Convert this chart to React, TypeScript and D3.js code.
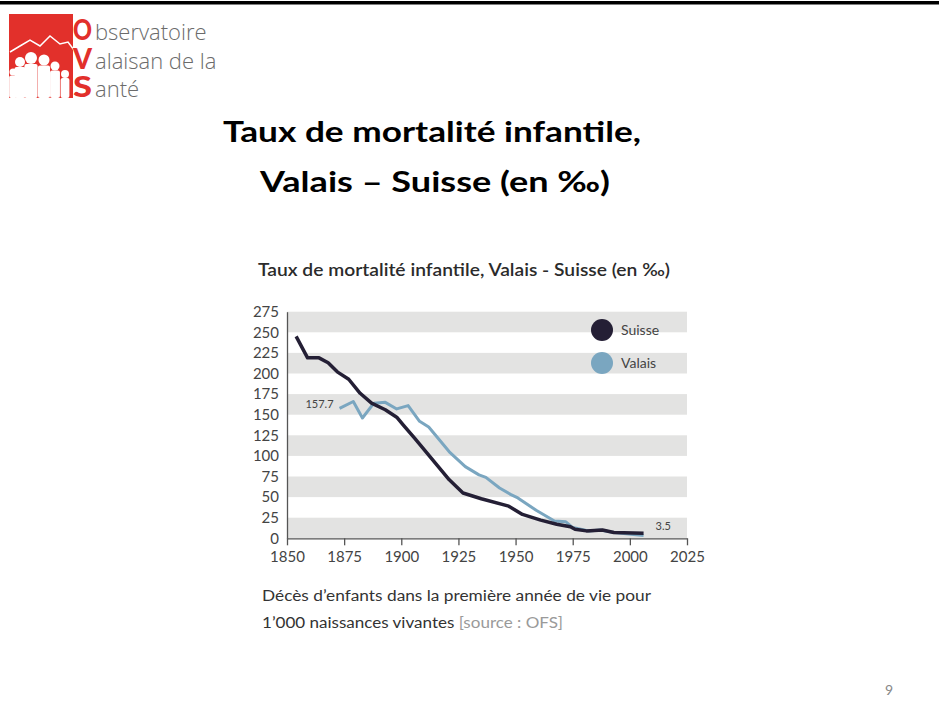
import { useEffect, useRef } from 'react';
import * as d3 from 'd3';

// Taux de mortalité infantile (pour 1000 naissances vivantes)
const suisseYears = [1854, 1859, 1864, 1868, 1872, 1877, 1882, 1887, 1893, 1898, 1901, 1906, 1912, 1921, 1927, 1935, 1947, 1953, 1961, 1968, 1974, 1976, 1981, 1988, 1993, 2006];
const suisseValues = [245, 219, 219, 213, 202, 193, 176, 164, 156, 147, 137, 121, 101, 71, 55, 48, 39, 29, 22, 17, 14, 11, 9, 10, 7, 6];

const valaisYears = [1873, 1879, 1883, 1888, 1893, 1898, 1903, 1908, 1912, 1921, 1928, 1934, 1937, 1943, 1948, 1951, 1959, 1967, 1972, 1975, 1982, 1987, 1993, 2006];
const valaisValues = [157.7, 166, 146, 164, 165, 157, 161, 142, 135, 105, 87, 77, 74, 61, 53, 49, 34, 21, 20, 13, 9, 10, 7, 3.5];

const seriesNames = ['Suisse', 'Valais'];
const seriesColors = ['#241f35', '#7aa6c0'];

const xTicks = [1850, 1875, 1900, 1925, 1950, 1975, 2000, 2025];
const yTicks = [0, 25, 50, 75, 100, 125, 150, 175, 200, 225, 250, 275];

const W = 939;
const H = 713;

export default function App() {
  const svgRef = useRef<SVGSVGElement>(null);

  useEffect(() => {
    const svg = d3.select(svgRef.current);
    svg.selectAll('*').remove();

    // slide frame
    svg.append('rect').attr('width', W).attr('height', H).attr('fill', '#fff');
    svg.append('rect').attr('x', 0).attr('y', 1).attr('width', W).attr('height', 3.5).attr('fill', '#000');

    // logo
    const logo = svg.append('g');
    logo.append('rect').attr('x', 9).attr('y', 14).attr('width', 64).attr('height', 84).attr('fill', '#e2302b');
    logo.append('polyline')
      .attr('points', '10,52 20,46 30,40 40,46 50,36 60,44 68,42 74,50')
      .attr('fill', 'none').attr('stroke', '#fff').attr('stroke-width', 1.5);
    const people = [
      [20, 62, 5, 34], [31, 58, 6, 38], [44, 60, 5.5, 36], [55, 66, 4.5, 30], [65, 74, 4, 22], [13, 72, 3.5, 24]
    ];
    people.forEach(([cx, cy, r]) => {
      logo.append('circle').attr('cx', cx).attr('cy', cy).attr('r', r).attr('fill', '#fff');
      logo.append('rect').attr('x', cx - r * 1.1).attr('y', cy + r).attr('width', r * 2.2).attr('height', 98 - cy - r).attr('rx', 2).attr('fill', '#fff');
    });
    ['O', 'V', 'S'].forEach((ch, i) => {
      logo.append('text').attr('x', 73).attr('y', 40 + i * 28.5)
        .attr('font-family', 'Lato, sans-serif').attr('font-weight', 900).attr('font-size', 28)
        .attr('textLength', 19).attr('lengthAdjust', 'spacingAndGlyphs')
        .attr('fill', '#e2302b').text(ch);
    });
    ['bservatoire', 'alaisan de la', 'anté'].forEach((t, i) => {
      logo.append('text').attr('x', 95).attr('y', 40 + i * 28.5)
        .attr('font-family', 'Open Sans, sans-serif').attr('font-weight', 300).attr('font-size', 22)
        .attr('fill', '#6b6b6b').text(t);
    });

    // slide title
    svg.append('text').attr('x', 223).attr('y', 142)
      .attr('font-family', 'Lato, sans-serif').attr('font-weight', 700).attr('font-size', 28)
      .attr('textLength', 418).attr('lengthAdjust', 'spacingAndGlyphs')
      .attr('fill', '#000').text('Taux de mortalité infantile,');
    svg.append('text').attr('x', 260).attr('y', 192)
      .attr('font-family', 'Lato, sans-serif').attr('font-weight', 700).attr('font-size', 28)
      .attr('textLength', 350).attr('lengthAdjust', 'spacingAndGlyphs')
      .attr('fill', '#000').text('Valais – Suisse (en ‰)');

    // chart
    const x = d3.scaleLinear().domain([1850, 2025]).range([287, 687]);
    const y = d3.scaleLinear().domain([0, 275]).range([538.3, 311.7]);

    svg.append('text').attr('x', 258).attr('y', 276)
      .attr('font-family', 'Lato, sans-serif').attr('font-weight', 600).attr('font-size', 16.5)
      .attr('textLength', 412).attr('lengthAdjust', 'spacingAndGlyphs')
      .attr('fill', '#2b2b2b').text('Taux de mortalité infantile, Valais - Suisse (en ‰)');

    const bands = yTicks.filter((d, i) => i % 2 === 0 && d < 275);
    svg.append('g').selectAll('rect').data(bands).enter().append('rect')
      .attr('x', x(1850)).attr('width', x(2025) - x(1850))
      .attr('y', (d) => y(d + 25)).attr('height', (d) => y(d) - y(d + 25))
      .attr('fill', '#e3e3e2');

    const xAxis = svg.append('g')
      .attr('transform', `translate(0, ${y(0)})`)
      .call(d3.axisBottom(x).tickValues(xTicks).tickFormat(d3.format('d')).tickSize(7).tickSizeOuter(0).tickPadding(6));
    xAxis.select('.domain').attr('stroke', '#555').attr('stroke-width', 1.3);
    xAxis.selectAll('.tick line').attr('stroke', '#555').attr('stroke-width', 1.3);
    xAxis.selectAll('.tick text').attr('font-family', 'Lato, sans-serif').attr('font-size', 15).attr('fill', '#444');

    const yAxis = svg.append('g')
      .attr('transform', `translate(${x(1850)}, 0)`)
      .call(d3.axisLeft(y).tickValues(yTicks).tickSize(0).tickSizeOuter(0).tickPadding(8));
    yAxis.select('.domain').attr('stroke', '#555').attr('stroke-width', 1.3);
    yAxis.selectAll('.tick text').attr('font-family', 'Lato, sans-serif').attr('font-size', 15).attr('fill', '#444');

    const line = d3.line<[number, number]>()
      .x((d) => x(d[0]))
      .y((d) => y(d[1]));

    const valais = valaisYears.map((yr, i) => [yr, valaisValues[i]] as [number, number]);
    const suisse = suisseYears.map((yr, i) => [yr, suisseValues[i]] as [number, number]);

    svg.append('path').datum(valais).attr('d', line)
      .attr('fill', 'none').attr('stroke', seriesColors[1]).attr('stroke-width', 3).attr('stroke-linejoin', 'round');
    svg.append('path').datum(suisse).attr('d', line)
      .attr('fill', 'none').attr('stroke', seriesColors[0]).attr('stroke-width', 3.5).attr('stroke-linejoin', 'round');

    // value labels
    svg.append('text').attr('x', x(valaisYears[0]) - 6).attr('y', y(valaisValues[0]))
      .attr('text-anchor', 'end').attr('font-family', 'Lato, sans-serif').attr('font-size', 11)
      .attr('fill', '#444').text('157.7');
    svg.append('text').attr('x', x(valaisYears[valaisYears.length - 1]) + 12).attr('y', y(valaisValues[valaisValues.length - 1]) - 5)
      .attr('font-family', 'Lato, sans-serif').attr('font-size', 11)
      .attr('fill', '#444').text('3.5');

    // legend
    const legend = svg.append('g').selectAll('g').data(seriesNames).enter().append('g')
      .attr('transform', (d, i) => `translate(602, ${330 + i * 33})`);
    legend.append('circle').attr('r', 11).attr('fill', (d, i) => seriesColors[i]);
    legend.append('text').attr('x', 19).attr('y', 5)
      .attr('font-family', 'Lato, sans-serif').attr('font-size', 14).attr('fill', '#444')
      .text((d) => d);

    // caption
    svg.append('text').attr('x', 262).attr('y', 601)
      .attr('font-family', 'Lato, sans-serif').attr('font-size', 15.5)
      .attr('textLength', 389).attr('lengthAdjust', 'spacingAndGlyphs')
      .attr('fill', '#333').text('Décès d’enfants dans la première année de vie pour');
    const cap2 = svg.append('text').attr('x', 262).attr('y', 628)
      .attr('font-family', 'Lato, sans-serif').attr('font-size', 15.5)
      .attr('textLength', 301).attr('lengthAdjust', 'spacingAndGlyphs')
      .attr('fill', '#333');
    cap2.append('tspan').text('1’000 naissances vivantes ');
    cap2.append('tspan').attr('fill', '#9a9a9a').text('[source : OFS]');

    // page number
    svg.append('text').attr('x', 889).attr('y', 695).attr('text-anchor', 'middle')
      .attr('font-family', 'Lato, sans-serif').attr('font-size', 14).attr('fill', '#888').text('9');
  }, []);

  return (
    <svg ref={svgRef} width={W} height={H} style={{ position: 'absolute', left: 0, top: 0 }} />
  );
}
